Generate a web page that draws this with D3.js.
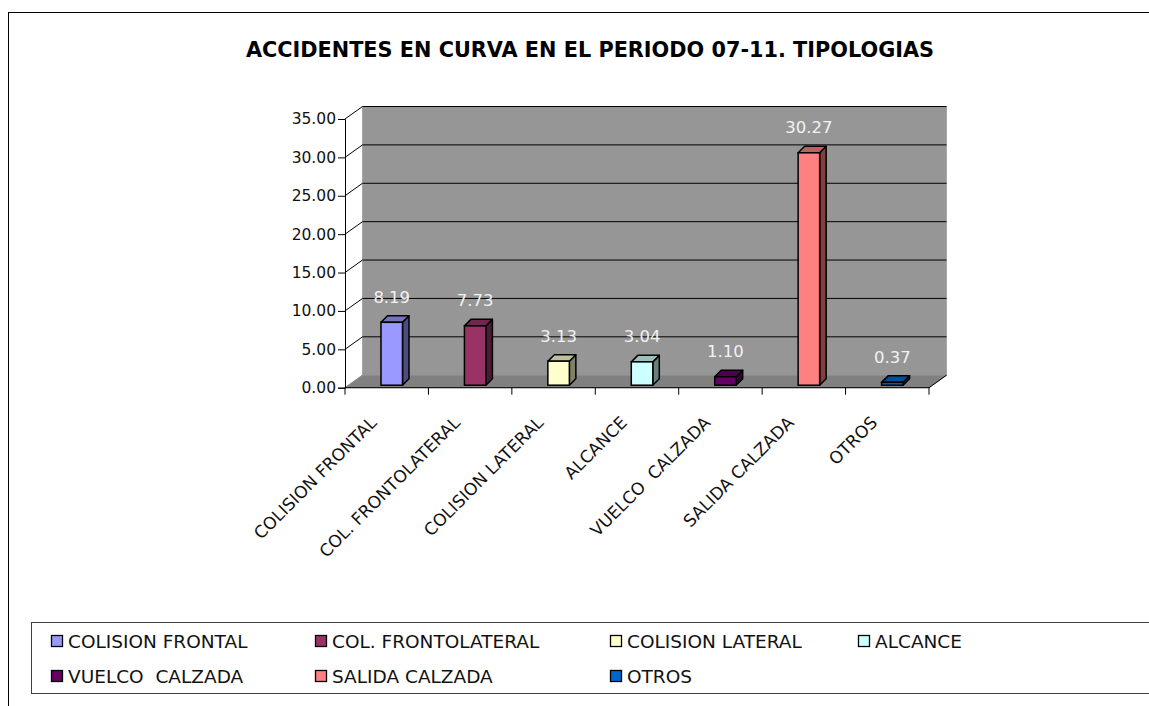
<!DOCTYPE html>
<html>
<head>
<meta charset="utf-8">
<script src="https://cdn.jsdelivr.net/npm/d3@7"></script>
<style>
  body { margin: 0; background: #fff; }
  svg { display: block; font-family: "DejaVu Sans", sans-serif; }
  text { white-space: pre; }
</style>
</head>
<body>
<svg id="chart" width="1149" height="706"></svg>
<script>
// Chart data
const title = "ACCIDENTES EN CURVA EN EL PERIODO 07-11. TIPOLOGIAS";
const categories = ["COLISION FRONTAL", "COL. FRONTOLATERAL", "COLISION LATERAL", "ALCANCE", "VUELCO  CALZADA", "SALIDA CALZADA", "OTROS"];
const values = [8.19, 7.73, 3.13, 3.04, 1.10, 30.27, 0.37];
const colors = ["#9999FF", "#993366", "#FFFFCC", "#CCFFFF", "#660066", "#FF8080", "#0066CC"];
const yTicks = [0, 5, 10, 15, 20, 25, 30, 35];

const svg = d3.select("#chart");

// Outer frame
svg.append("rect")
    .attr("x", 8.5).attr("y", 12.5)
    .attr("width", 1160).attr("height", 710)
    .attr("fill", "#fff").attr("stroke", "#000");

// Title
svg.append("text")
    .attr("x", 590).attr("y", 57)
    .attr("text-anchor", "middle")
    .attr("font-size", 20.8).attr("font-weight", "bold")
    .text(title);

// 3D layout: front plane + depth offset
const depthX = 17.5, depthY = -12.5;
const x = d3.scaleBand().domain(categories).range([345, 929]);
const y = d3.scaleLinear().domain([0, 35]).range([387.7, 119]);

const plot = svg.append("g");

// Back wall
plot.append("rect")
    .attr("x", x.range()[0] + depthX)
    .attr("y", y(35) + depthY)
    .attr("width", x.range()[1] - x.range()[0])
    .attr("height", y(0) - y(35))
    .attr("fill", "#969696")
    .attr("stroke", "#a6a6a6");

// Floor
const floorPts = [
    [x.range()[0], y(0)], [x.range()[1], y(0)],
    [x.range()[1] + depthX, y(0) + depthY], [x.range()[0] + depthX, y(0) + depthY]
];
plot.append("path")
    .attr("d", d3.line()(floorPts) + "Z")
    .attr("fill", "#808080")
    .attr("stroke", "#8c8c8c");

// Gridlines on back wall and side wall
yTicks.forEach(t => {
    if (t > 0) {
        plot.append("line")
            .attr("x1", x.range()[0] + depthX).attr("x2", x.range()[1] + depthX)
            .attr("y1", y(t) + depthY).attr("y2", y(t) + depthY)
            .attr("stroke", "#000").attr("stroke-width", 1);
    }
    plot.append("line")
        .attr("x1", x.range()[0]).attr("y1", y(t))
        .attr("x2", x.range()[0] + depthX).attr("y2", y(t) + depthY)
        .attr("stroke", t === 0 ? "#8c8c8c" : "#000").attr("stroke-width", 1);
});

// Right floor edge
plot.append("line")
    .attr("x1", x.range()[1]).attr("y1", y(0))
    .attr("x2", x.range()[1] + depthX).attr("y2", y(0) + depthY)
    .attr("stroke", "#000");

// Y axis
const yAxis = plot.append("g")
    .attr("transform", `translate(${x.range()[0]},0)`)
    .call(d3.axisLeft(y).tickValues(yTicks).tickFormat(d3.format(".2f")).tickSize(7).tickPadding(2));
yAxis.selectAll("text").attr("font-size", 15.5).attr("fill", "#111").attr("font-family", "DejaVu Sans");
yAxis.select(".domain").attr("stroke", "#000");

// X axis
const xAxis = plot.append("g")
    .attr("transform", `translate(0,${y(0)})`);
xAxis.append("line")
    .attr("x1", x.range()[0]).attr("x2", x.range()[1])
    .attr("stroke", "#000");
xAxis.selectAll("line.tick")
    .data(d3.range(categories.length + 1))
    .join("line")
    .attr("class", "tick")
    .attr("x1", i => x.range()[0] + i * x.step())
    .attr("x2", i => x.range()[0] + i * x.step())
    .attr("y1", 0).attr("y2", 7)
    .attr("stroke", "#000");
xAxis.selectAll("text")
    .data(categories)
    .join("text")
    .attr("transform", d => `translate(${x(d) + x.bandwidth() / 2 - 9},${36}) rotate(-45)`)
    .attr("text-anchor", "end")
    .attr("font-size", 17)
    .attr("fill", "#111")
    .text(d => d);

// Bars (front face, side, top)
const barFrac = 0.2;
const barW = 21.5, barD = 6.5;
const offX = barFrac * depthX, offY = barFrac * depthY;
const bars = plot.selectAll("g.bar")
    .data(values)
    .join("g")
    .attr("class", "bar");

bars.each(function(v, i) {
    const g = d3.select(this);
    const c = d3.color(colors[i]);
    const x0 = x(categories[i]) + 32.5 + offX;
    const yT = y(v) + offY, yB = y(0) + offY;
    const side = d3.rgb(c.r * 0.5, c.g * 0.5, c.b * 0.5);
    const top = d3.rgb(c.r * 0.75, c.g * 0.75, c.b * 0.75);
    g.append("path")
        .attr("d", d3.line()([[x0 + barW, yB], [x0 + barW + barD, yB - barD], [x0 + barW + barD, yT - barD], [x0 + barW, yT]]) + "Z")
        .attr("fill", side).attr("stroke", "#000").attr("stroke-width", 1.5).attr("stroke-linejoin", "round");
    g.append("path")
        .attr("d", d3.line()([[x0, yT], [x0 + barD, yT - barD], [x0 + barW + barD, yT - barD], [x0 + barW, yT]]) + "Z")
        .attr("fill", top).attr("stroke", "#000").attr("stroke-width", 1.5).attr("stroke-linejoin", "round");
    g.append("rect")
        .attr("x", x0).attr("y", yT)
        .attr("width", barW).attr("height", yB - yT)
        .attr("fill", c).attr("stroke", "#000").attr("stroke-width", 1.5);
});

// Data labels
plot.selectAll("text.val")
    .data(values)
    .join("text")
    .attr("class", "val")
    .attr("x", (v, i) => x(categories[i]) + 32.5 + offX + barW / 2)
    .attr("y", v => y(v) - 22)
    .attr("text-anchor", "middle")
    .attr("font-size", 16.5)
    .attr("fill", "#f2f2f2")
    .text(v => v.toFixed(2));

// Legend
const legCols = [51, 315, 610, 858];
const legRows = [635, 670];
svg.append("rect")
    .attr("x", 31.5).attr("y", 622.5)
    .attr("width", 1140).attr("height", 71)
    .attr("fill", "#fff").attr("stroke", "#404040");
const leg = svg.selectAll("g.leg")
    .data(categories)
    .join("g")
    .attr("class", "leg")
    .attr("transform", (d, i) => `translate(${legCols[i % 4]},${legRows[Math.floor(i / 4)]})`);
leg.append("rect")
    .attr("x", 0.5).attr("y", 0.5)
    .attr("width", 11).attr("height", 11)
    .attr("fill", (d, i) => colors[i])
    .attr("stroke", "#000").attr("stroke-width", 1.3);
leg.append("text")
    .attr("x", 17).attr("y", 12.5)
    .attr("font-size", 18.5)
    .attr("fill", "#111")
    .text(d => d);
</script>
</body>
</html>
